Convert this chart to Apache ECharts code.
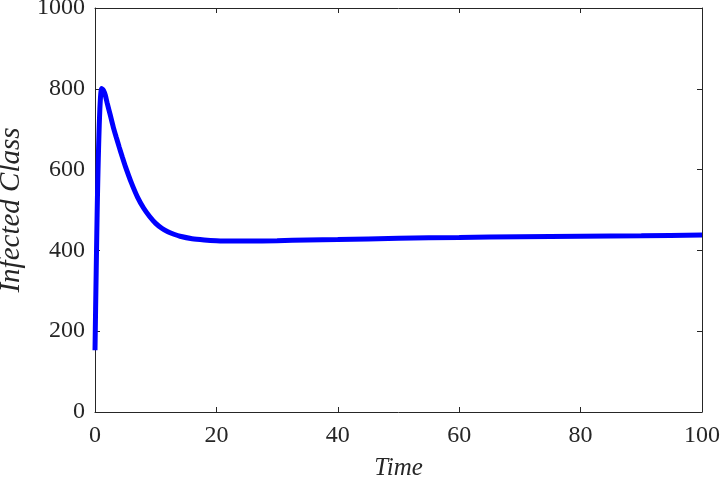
<!DOCTYPE html>
<html>
<head>
<meta charset="UTF-8">
<title>Infected Class</title>
<script src="https://cdn.jsdelivr.net/npm/echarts@6/dist/echarts.min.js"></script>
<style>
    html, body { margin: 0; padding: 0; background: #fff; }
    #main { width: 720px; height: 483px; }
</style>
</head>
<body>
<div id="main"></div>
<script type="text/javascript">
    // values
    var times    = [0, 0.1, 0.2, 0.3, 0.4, 0.5, 0.6, 0.7, 0.8, 0.9, 1.0, 1.1, 1.2, 1.4, 1.7, 2, 2.5, 3, 3.5, 4, 4.5, 5, 6, 7, 8, 9, 10, 11, 12, 13, 14, 16, 18, 20, 22, 25, 30, 35, 40, 50, 60, 70, 80, 90, 100];
    var infected = [153, 255, 350, 445, 530, 600, 660, 710, 750, 778, 795, 801, 801, 796, 784, 765, 736, 706, 680, 655, 631, 608, 567, 532, 505, 484, 467, 455, 446, 440, 435, 429, 426, 424, 423, 423, 424, 426, 427, 430, 432, 434, 435, 436, 438];
    var xTicks = [0, 20, 40, 60, 80, 100];
    var yTicks = [0, 200, 400, 600, 800, 1000];

    var pts = [];
    for (var i = 0; i < times.length; i++) {
        pts.push([times[i], infected[i]]);
    }

    var font = "'Liberation Serif', 'Times New Roman', serif";
    var axisColor = '#262626';

    var myChart = echarts.init(document.getElementById('main'), null, { renderer: 'canvas' });

    function plain(v) { return String(v); }

    var option = {
        backgroundColor: '#fff',
        animation: false,
        grid: { left: 95, right: 18, top: 8, bottom: 71, containLabel: false, outerBoundsMode: 'none' },
        xAxis: [{
            type: 'value',
            min: xTicks[0], max: xTicks[xTicks.length - 1], interval: 20,
            name: 'Time', nameLocation: 'middle', nameGap: 44,
            nameTextStyle: { fontFamily: font, fontStyle: 'italic', fontSize: 25, color: axisColor },
            axisLine: { show: true, onZero: false, lineStyle: { color: axisColor, width: 1 } },
            axisTick: { show: true, inside: true, length: 5, lineStyle: { color: axisColor } },
            axisLabel: { fontFamily: font, fontSize: 24, color: axisColor, margin: 12, formatter: plain },
            splitLine: { show: false }
        }, {
            type: 'value', position: 'top',
            min: xTicks[0], max: xTicks[xTicks.length - 1], interval: 20,
            axisLine: { show: true, onZero: false, lineStyle: { color: axisColor, width: 1 } },
            axisTick: { show: true, inside: true, length: 5, lineStyle: { color: axisColor } },
            axisLabel: { show: false },
            splitLine: { show: false }
        }],
        yAxis: [{
            type: 'value',
            min: yTicks[0], max: yTicks[yTicks.length - 1], interval: 200,
            name: 'Infected Class', nameLocation: 'middle', nameGap: 64,
            nameTextStyle: { fontFamily: font, fontStyle: 'italic', fontSize: 29, color: axisColor },
            axisLine: { show: true, onZero: false, lineStyle: { color: axisColor, width: 1 } },
            axisTick: { show: true, inside: true, length: 5, lineStyle: { color: axisColor } },
            axisLabel: { fontFamily: font, fontSize: 24, color: axisColor, margin: 10, formatter: plain },
            splitLine: { show: false }
        }, {
            type: 'value', position: 'right',
            min: yTicks[0], max: yTicks[yTicks.length - 1], interval: 200,
            axisLine: { show: true, onZero: false, lineStyle: { color: axisColor, width: 1 } },
            axisTick: { show: true, inside: true, length: 5, lineStyle: { color: axisColor } },
            axisLabel: { show: false },
            splitLine: { show: false }
        }],
        series: [{
            type: 'line',
            data: pts,
            smooth: 0.2,
            showSymbol: false,
            symbol: 'none',
            lineStyle: { color: '#0000ff', width: 5 },
            itemStyle: { color: '#0000ff' }
        }]
    };

    myChart.setOption(option);
</script>
</body>
</html>
